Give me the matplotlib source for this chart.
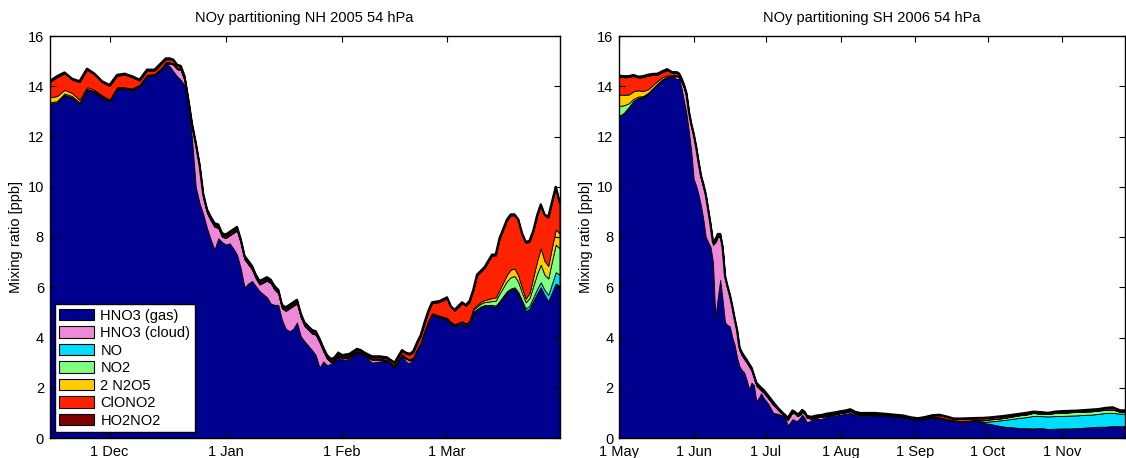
import datetime as dt
import matplotlib
matplotlib.use("Agg")
import matplotlib.pyplot as plt
import matplotlib.dates as mdates
from matplotlib.patches import Patch
from matplotlib.ticker import FuncFormatter
import numpy as np

plt.rcParams['font.family'] = ['Liberation Sans', 'DejaVu Sans']

species = ['HNO3 (gas)', 'HNO3 (cloud)', 'NO', 'NO2', '2 N2O5', 'ClONO2', 'HO2NO2']
colors = ['#00008F', '#EE88D8', '#00DDFF', '#80FF80', '#FFCC00', '#FF2200', '#800000']

# ---------------- NH 2005 (days since 15 Nov 2004) ----------------
nh_title = 'NOy partitioning NH 2005 54 hPa'
nh_start = dt.datetime(2004, 11, 15)
nh_end = dt.datetime(2005, 3, 31)
nh_days = [0, 2, 4, 6, 8, 10, 12, 14, 16, 18, 20, 22, 24, 26, 28, 30,
           31, 32, 33, 34, 35, 36, 37, 38, 39, 40, 41, 42, 43, 44, 45, 46, 47, 48, 49, 50, 51, 52, 53, 54, 55, 56,
           58, 59, 60, 61, 62, 63, 64, 65, 66, 67, 68,
           70, 71, 72, 73, 74, 75, 76, 77, 78,
           80, 82, 83, 84, 86, 88, 90, 92, 94,
           95, 96, 97, 98, 99, 100, 101, 102,
           104, 106, 107, 108, 110, 111, 112, 113, 114, 115, 116,
           118, 119, 120, 122, 123, 124, 125, 126, 127, 128, 129, 130, 131, 132, 133, 134, 135, 136]
nh_gas = [13.3, 13.35, 13.65, 13.55, 13.3, 13.85, 13.75, 13.55, 13.4, 13.9, 13.9, 13.85, 14.0, 14.4, 14.43, 14.7,
          14.9, 14.8, 14.6, 14.4, 14.25, 14.05, 13.3, 11.9, 10.0, 9.35, 8.9, 8.35, 7.9, 7.5, 7.95, 7.8, 7.7, 7.75, 7.55, 7.3, 6.75, 6.0, 6.15, 6.25, 6.05, 5.85,
          5.6, 5.35, 5.3, 5.3, 4.7, 4.35, 4.25, 4.35, 4.6, 4.05, 3.85,
          3.5, 3.3, 2.8, 3.05, 2.9, 2.95, 3.05, 3.2, 3.1,
          3.15, 3.4, 3.36, 3.26, 3.0, 3.05, 3.05, 2.83, 3.29,
          3.05, 2.97, 3.16, 3.49, 3.76, 4.23, 4.61, 4.92,
          4.8, 4.7, 4.55, 4.45, 4.55, 4.45, 4.55, 5.0, 5.1, 5.2, 5.25,
          5.25, 5.22, 5.4, 5.8, 5.9, 5.95, 5.75, 5.4, 5.05, 5.15, 5.45, 5.75, 6.0, 5.7, 5.45, 5.8, 6.15, 6.05]
nh_cloud = [0, 0, 0, 0, 0, 0, 0, 0, 0, 0, 0, 0, 0, 0, 0, 0,
            0, 0.1, 0.26, 0.28, 0.39, 0.2, 0.05, 0.46, 1.6, 1.4, 0.66, 0.61, 0.76, 0.91, 0.41, 0.21, 0.26, 0.31, 0.61, 0.96, 1.01, 1.11, 0.76, 0.46, 0.31, 0.26,
            0.66, 0.81, 0.61, 0.46, 0.46, 0.71, 0.91, 0.91, 0.76, 0.76, 0.61,
            0.66, 0.81, 1.01, 0.41, 0.26, 0.06, 0.01, 0.06, 0.06,
            0.06, 0.01, 0, 0, 0.11, 0.06, 0.01, 0, 0,
            0.11, 0.11, 0, 0, 0, 0, 0, 0,
            0, 0, 0, 0, 0, 0, 0, 0, 0, 0, 0,
            0, 0, 0, 0, 0, 0, 0, 0, 0, 0, 0, 0, 0, 0, 0, 0, 0, 0]
nh_no = [0.01, 0.01, 0.01, 0.01, 0.01, 0.01, 0.01, 0.01, 0.01, 0.01, 0.01, 0.01, 0.01, 0.01, 0.01, 0.01,
         0.01, 0.01, 0.01, 0.01, 0.01, 0.01, 0.01, 0.01, 0.01, 0.01, 0.01, 0.01, 0.01, 0.01, 0.01, 0.01, 0.01, 0.01, 0.01, 0.01, 0.01, 0.01, 0.01, 0.01, 0.01, 0.01,
         0.01, 0.01, 0.01, 0.01, 0.01, 0.01, 0.01, 0.01, 0.01, 0.01, 0.01,
         0.01, 0.01, 0.01, 0.01, 0.01, 0.01, 0.01, 0.01, 0.01,
         0.01, 0.01, 0.01, 0.01, 0.01, 0.01, 0.01, 0.01, 0.01,
         0.01, 0.01, 0.01, 0.01, 0.01, 0.01, 0.01, 0.01,
         0.01, 0.01, 0.01, 0.01, 0.01, 0.015, 0.02, 0.025, 0.03, 0.035, 0.04,
         0.05, 0.05, 0.05, 0.05, 0.05, 0.05, 0.06, 0.08, 0.1, 0.12, 0.15, 0.18, 0.2, 0.2, 0.25, 0.35, 0.45, 0.45]
nh_no2 = [0.05, 0.05, 0.05, 0.05, 0.05, 0.04, 0.04, 0.04, 0.03, 0.03, 0.03, 0.03, 0.03, 0.03, 0.03, 0.03,
          0.03, 0.03, 0.03, 0.03, 0.03, 0.03, 0.02, 0.02, 0.02, 0.02, 0.02, 0.02, 0.02, 0.02, 0.02, 0.02, 0.02, 0.02, 0.02, 0.02, 0.02, 0.02, 0.02, 0.02, 0.02, 0.02,
          0.02, 0.02, 0.02, 0.02, 0.02, 0.02, 0.02, 0.02, 0.02, 0.02, 0.02,
          0.02, 0.02, 0.02, 0.02, 0.02, 0.02, 0.02, 0.02, 0.02,
          0.02, 0.02, 0.02, 0.02, 0.02, 0.02, 0.02, 0.02, 0.02,
          0.02, 0.02, 0.02, 0.02, 0.02, 0.02, 0.02, 0.02,
          0.03, 0.04, 0.04, 0.04, 0.05, 0.05, 0.06, 0.08, 0.1, 0.11, 0.12,
          0.15, 0.2, 0.3, 0.4, 0.45, 0.45, 0.4, 0.3, 0.25, 0.3, 0.45, 0.6, 0.7, 0.6, 0.65, 0.9, 1.1, 1.05]
nh_n2o5 = [0.2, 0.2, 0.15, 0.12, 0.1, 0.07, 0.05, 0.04, 0.03, 0.02, 0.02, 0.02, 0.02, 0.02, 0.02, 0.02,
           0.02, 0.02, 0.02, 0.02, 0.02, 0.02, 0.02, 0.02, 0.02, 0.02, 0.02, 0.02, 0.02, 0.02, 0.02, 0.02, 0.02, 0.02, 0.02, 0.02, 0.02, 0.02, 0.02, 0.02, 0.02, 0.02,
           0.02, 0.02, 0.02, 0.02, 0.02, 0.02, 0.02, 0.02, 0.02, 0.02, 0.02,
           0.02, 0.02, 0.02, 0.02, 0.02, 0.02, 0.02, 0.02, 0.02,
           0.02, 0.02, 0.02, 0.02, 0.02, 0.02, 0.02, 0.02, 0.02,
           0.02, 0.02, 0.02, 0.02, 0.02, 0.02, 0.02, 0.02,
           0.03, 0.03, 0.03, 0.03, 0.04, 0.04, 0.045, 0.05, 0.06, 0.07, 0.08,
           0.12, 0.13, 0.15, 0.25, 0.3, 0.3, 0.25, 0.2, 0.15, 0.2, 0.35, 0.5, 0.65, 0.55, 0.5, 0.55, 0.6, 0.6]
nh_clono2 = [0.6, 0.75, 0.65, 0.53, 0.7, 0.69, 0.61, 0.52, 0.54, 0.45, 0.5, 0.45, 0.16, 0.16, 0.13, 0.16,
             0.11, 0.11, 0.1, 0.08, 0.07, 0.06, 0.05, 0.05, 0.05, 0.05, 0.05, 0.05, 0.05, 0.05, 0.05, 0.05, 0.05, 0.05, 0.05, 0.05, 0.05, 0.05, 0.05, 0.05, 0.05, 0.05,
             0.05, 0.05, 0.05, 0.05, 0.05, 0.05, 0.05, 0.05, 0.05, 0.05, 0.05,
             0.05, 0.05, 0.05, 0.05, 0.05, 0.05, 0.05, 0.05, 0.05,
             0.05, 0.05, 0.05, 0.05, 0.05, 0.05, 0.06, 0.08, 0.12,
             0.15, 0.18, 0.2, 0.22, 0.25, 0.28, 0.35, 0.39,
             0.54, 0.78, 0.58, 0.53, 0.71, 0.7, 0.735, 0.705, 1.17, 1.195, 1.27,
             1.69, 1.66, 2.01, 2.16, 2.16, 2.11, 2.2, 2.13, 2.21, 2.04, 1.81, 1.78, 1.71, 1.81, 1.91, 1.76, 1.66, 1.21]
nh_ho2no2 = [0.04, 0.04, 0.04, 0.04, 0.04, 0.04, 0.04, 0.04, 0.04, 0.04, 0.04, 0.04, 0.04, 0.04, 0.04, 0.04,
             0.04, 0.04, 0.04, 0.04, 0.04, 0.04, 0.04, 0.04, 0.04, 0.04, 0.04, 0.04, 0.04, 0.04, 0.04, 0.04, 0.04, 0.04, 0.04, 0.04, 0.04, 0.04, 0.04, 0.04, 0.04, 0.04,
             0.04, 0.04, 0.04, 0.04, 0.04, 0.04, 0.04, 0.04, 0.04, 0.04, 0.04,
             0.04, 0.04, 0.04, 0.04, 0.04, 0.04, 0.04, 0.04, 0.04,
             0.04, 0.04, 0.04, 0.04, 0.04, 0.04, 0.04, 0.04, 0.04,
             0.04, 0.04, 0.04, 0.04, 0.04, 0.04, 0.04, 0.04,
             0.04, 0.04, 0.04, 0.04, 0.04, 0.04, 0.04, 0.04, 0.04, 0.04, 0.04,
             0.04, 0.04, 0.04, 0.04, 0.04, 0.04, 0.04, 0.04, 0.04, 0.04, 0.04, 0.04, 0.04, 0.04, 0.04, 0.04, 0.04, 0.04]

# ---------------- SH 2006 (days since 1 May 2006) ----------------
sh_title = 'NOy partitioning SH 2006 54 hPa'
sh_start = dt.datetime(2006, 5, 1)
sh_end = dt.datetime(2006, 11, 27)
sh_days = [0, 2, 4, 6, 8, 10, 12, 14, 16, 18, 20, 22,
           24, 25, 26, 27, 28, 29, 30, 31, 32, 33, 34, 35, 36, 37, 38, 39, 40, 41, 42, 43, 44, 45, 46, 47, 48, 49,
           50, 51, 52, 53, 54, 55, 56, 57, 58, 59, 60,
           62, 64, 66, 68,
           69, 70, 71, 72, 73, 74, 75, 76, 77, 78,
           80, 82, 84, 86, 88, 90, 92, 94, 96, 98, 100,
           103, 106, 109, 112, 115, 118, 121, 124, 127, 130, 133, 136, 139, 142, 145, 148,
           151, 154, 157, 160, 163, 166, 169, 172, 175, 178, 181, 184, 187, 190, 193, 196, 199, 202, 205, 208,
           210]
sh_gas = [12.8, 12.92, 13.15, 13.4, 13.52, 13.56, 13.7, 13.9, 14.08, 14.25, 14.35, 14.38,
          14.29, 14.29, 13.9, 13.4, 12.9, 12.2, 11.4, 10.3, 10.05, 9.7, 9.25, 8.7, 8.0, 7.8, 7.6, 7.0, 4.8, 5.6, 6.3, 5.5, 4.6, 4.5, 4.44, 4.0, 3.7, 3.2,
          2.85, 2.7, 2.6, 2.3, 1.95, 2.2, 2.1, 1.45, 1.6, 1.78, 1.6,
          1.35, 1.0, 0.96, 0.88,
          0.8, 0.5, 0.62, 0.75, 0.7, 0.68, 0.78, 0.93, 0.8, 0.62,
          0.72, 0.78, 0.75, 0.86, 0.88, 0.9, 0.93, 0.96, 1.0, 0.92, 0.89,
          0.88, 0.9, 0.9, 0.88, 0.85, 0.82, 0.76, 0.72, 0.77, 0.8, 0.76, 0.73, 0.68, 0.65, 0.66, 0.7,
          0.6, 0.56, 0.5, 0.45, 0.43, 0.4, 0.39, 0.38, 0.4, 0.36, 0.37, 0.38, 0.38, 0.39, 0.41, 0.43, 0.45, 0.45, 0.48, 0.47,
          0.47]
sh_cloud = [0, 0, 0, 0, 0, 0, 0, 0, 0, 0, 0, 0,
            0.11, 0.06, 0.26, 0.52, 0.69, 0.68, 0.98, 1.69, 1.44, 1.19, 1.09, 1.29, 1.59, 1.19, 0.79, 0.69, 2.99, 2.41, 1.71, 1.99, 1.74, 1.44, 1.15, 1.14, 0.94, 0.99,
            0.64, 0.59, 0.54, 0.7, 0.89, 0.49, 0.29, 0.64, 0.39, 0.11, 0.21,
            0.22, 0.32, 0.16, 0.04,
            0.04, 0.22, 0.25, 0.27, 0.27, 0.19, 0.14, 0.11, 0.17, 0.18,
            0.05, 0.04, 0.09, 0.03, 0.04, 0.05, 0.06, 0.06, 0.07, 0.05, 0.03,
            0.04, 0.02, 0, 0, 0, 0, 0, 0, 0, 0.02, 0.04, 0, 0, 0, 0, 0,
            0, 0, 0, 0, 0, 0, 0, 0, 0, 0, 0, 0, 0, 0, 0, 0, 0, 0, 0, 0,
            0]
sh_no = [0.02, 0.02, 0.02, 0.02, 0.02, 0.02, 0.01, 0.01, 0.01, 0.01, 0.01, 0.01,
         0.01, 0.01, 0.01, 0.01, 0.01, 0.01, 0.01, 0.01, 0.01, 0.01, 0.01, 0.01, 0.01, 0.01, 0.01, 0.01, 0.01, 0.01, 0.01, 0.01, 0.01, 0.01, 0.01, 0.01, 0.01, 0.01,
         0.01, 0.01, 0.01, 0.01, 0.01, 0.01, 0.01, 0.01, 0.01, 0.01, 0.01,
         0.01, 0.01, 0.005, 0.005,
         0.005, 0.005, 0.005, 0.005, 0.005, 0.005, 0.005, 0.005, 0.005, 0.005,
         0.005, 0.005, 0.005, 0.005, 0.005, 0.005, 0.005, 0.005, 0.005, 0.005, 0.005,
         0.005, 0.005, 0.005, 0.005, 0.005, 0.005, 0.005, 0.005, 0.005, 0.005, 0.005, 0.005, 0.005, 0.005, 0.005, 0.005,
         0.04, 0.1, 0.19, 0.27, 0.33, 0.4, 0.44, 0.5, 0.47, 0.5, 0.5, 0.5, 0.51, 0.51, 0.51, 0.5, 0.51, 0.55, 0.52, 0.5,
         0.5]
sh_no2 = [0.4, 0.3, 0.15, 0.08, 0.05, 0.03, 0.02, 0.02, 0.02, 0.02, 0.02, 0.02,
          0.02, 0.02, 0.02, 0.02, 0.02, 0.02, 0.02, 0.02, 0.02, 0.02, 0.02, 0.02, 0.02, 0.02, 0.02, 0.02, 0.02, 0.02, 0.02, 0.02, 0.02, 0.02, 0.02, 0.02, 0.02, 0.02,
          0.02, 0.02, 0.02, 0.02, 0.02, 0.02, 0.02, 0.02, 0.02, 0.02, 0.02,
          0.02, 0.02, 0.01, 0.01,
          0.01, 0.01, 0.01, 0.01, 0.01, 0.01, 0.01, 0.01, 0.01, 0.01,
          0.01, 0.01, 0.01, 0.01, 0.01, 0.01, 0.01, 0.01, 0.01, 0.01, 0.01,
          0.01, 0.01, 0.01, 0.01, 0.01, 0.01, 0.01, 0.01, 0.01, 0.01, 0.01, 0.01, 0.01, 0.01, 0.01, 0.01,
          0.06, 0.08, 0.07, 0.08, 0.09, 0.1, 0.1, 0.12, 0.08, 0.1, 0.12, 0.12, 0.13, 0.14, 0.13, 0.13, 0.13, 0.12, 0.13, 0.07,
          0.08]
sh_n2o5 = [0.45, 0.42, 0.35, 0.3, 0.25, 0.2, 0.15, 0.12, 0.1, 0.08, 0.05, 0.03,
           0.01, 0.01, 0.01, 0.01, 0.01, 0.01, 0.01, 0.01, 0.01, 0.01, 0.01, 0.01, 0.01, 0.01, 0.01, 0.01, 0.01, 0.01, 0.01, 0.01, 0.01, 0.01, 0.01, 0.01, 0.01, 0.01,
           0.01, 0.01, 0.01, 0.01, 0.01, 0.01, 0.01, 0.01, 0.01, 0.01, 0.01,
           0.01, 0.01, 0.01, 0.01,
           0.01, 0.01, 0.01, 0.01, 0.01, 0.01, 0.01, 0.01, 0.01, 0.01,
           0.01, 0.01, 0.01, 0.01, 0.01, 0.01, 0.01, 0.01, 0.01, 0.01, 0.01,
           0.01, 0.01, 0.01, 0.01, 0.01, 0.01, 0.01, 0.01, 0.01, 0.01, 0.01, 0.01, 0.01, 0.01, 0.01, 0.01,
           0.01, 0.01, 0.01, 0.01, 0.01, 0.01, 0.01, 0.01, 0.01, 0.01, 0.01, 0.01, 0.01, 0.01, 0.01, 0.01, 0.01, 0.01, 0.01, 0.01,
           0.01]
sh_clono2 = [0.71, 0.7, 0.69, 0.61, 0.5, 0.55, 0.54, 0.4, 0.25, 0.2, 0.21, 0.08,
             0.08, 0.07, 0.06, 0.05, 0.05, 0.04, 0.04, 0.03, 0.03, 0.03, 0.03, 0.03, 0.03, 0.03, 0.03, 0.03, 0.03, 0.03, 0.03, 0.03, 0.03, 0.03, 0.03, 0.03, 0.03, 0.03,
             0.03, 0.03, 0.03, 0.03, 0.03, 0.03, 0.03, 0.03, 0.03, 0.03, 0.03,
             0.03, 0.03, 0.03, 0.03,
             0.03, 0.03, 0.03, 0.03, 0.03, 0.03, 0.03, 0.03, 0.03, 0.03,
             0.03, 0.03, 0.03, 0.03, 0.03, 0.03, 0.03, 0.03, 0.03, 0.03, 0.03,
             0.03, 0.03, 0.03, 0.025, 0.025, 0.03, 0.02, 0.02, 0.02, 0.04, 0.08, 0.08, 0.05, 0.08, 0.08, 0.05,
             0.07, 0.05, 0.06, 0.05, 0.04, 0.03, 0.04, 0.02, 0.05, 0.01, 0.03, 0.04, 0.03, 0.02, 0.03, 0.04, 0.03, 0.05, 0.06, 0.03,
             0.02]
sh_ho2no2 = [0.04, 0.04, 0.04, 0.04, 0.04, 0.04, 0.04, 0.04, 0.04, 0.04, 0.04, 0.04,
             0.04, 0.04, 0.04, 0.04, 0.04, 0.04, 0.04, 0.04, 0.04, 0.04, 0.04, 0.04, 0.04, 0.04, 0.04, 0.04, 0.04, 0.04, 0.04, 0.04, 0.04, 0.04, 0.04, 0.04, 0.04, 0.04,
             0.04, 0.04, 0.04, 0.04, 0.04, 0.04, 0.04, 0.04, 0.04, 0.04, 0.04,
             0.04, 0.04, 0.02, 0.02,
             0.02, 0.02, 0.02, 0.02, 0.02, 0.02, 0.02, 0.02, 0.02, 0.02,
             0.02, 0.02, 0.02, 0.02, 0.02, 0.02, 0.02, 0.02, 0.02, 0.02, 0.02,
             0.02, 0.02, 0.02, 0.02, 0.02, 0.02, 0.02, 0.02, 0.02, 0.02, 0.02, 0.02, 0.02, 0.02, 0.02, 0.02,
             0.02, 0.02, 0.02, 0.02, 0.02, 0.02, 0.02, 0.02, 0.02, 0.02, 0.02, 0.02, 0.02, 0.02, 0.02, 0.02, 0.02, 0.02, 0.02, 0.02,
             0.02]

y_ticks = [0, 2, 4, 6, 8, 10, 12, 14, 16]
y_label = 'Mixing ratio [ppb]'
FS = 10.5


def month_label(x, pos=None):
    d = mdates.num2date(x)
    return f"{d.day} {d.strftime('%b')}"


def draw(ax, start, end, days, series, title, legend=False):
    for s in series:
        if len(s) != len(days):
            raise ValueError(f"length mismatch {len(s)} vs {len(days)} in {title}")
    x = [start + dt.timedelta(days=d) for d in days]
    ys = np.array(series, dtype=float)
    ax.stackplot(x, ys, colors=colors, edgecolor='black', linewidth=0.6)
    ax.plot(x, ys.sum(axis=0), color='black', linewidth=1.6)
    ax.set_xlim(start, end)
    ax.set_ylim(0, 16)
    ax.set_yticks(y_ticks)
    ax.xaxis.set_major_locator(mdates.MonthLocator(bymonthday=1))
    ax.xaxis.set_major_formatter(FuncFormatter(month_label))
    ax.tick_params(direction='in', top=True, right=True, length=4, width=0.8,
                   labelsize=FS)
    ax.tick_params(axis='x', pad=5)
    ax.tick_params(axis='y', pad=4)
    for sp in ax.spines.values():
        sp.set_linewidth(1.0)
    ax.set_title(title, fontsize=FS, pad=10)
    ax.set_ylabel(y_label, fontsize=FS, labelpad=3)
    if legend:
        handles = [Patch(facecolor=c, edgecolor='black', linewidth=0.8) for c in colors]
        leg = ax.legend(handles, species, loc='lower left',
                        bbox_to_anchor=(0.011, 0.015), borderaxespad=0,
                        fontsize=FS, fancybox=False, framealpha=1,
                        edgecolor='black', handlelength=2.4, handleheight=0.85,
                        handletextpad=0.4, labelspacing=0.24, borderpad=0.3)
        leg.get_frame().set_linewidth(1.0)


fig = plt.figure(figsize=(11.26, 4.58), dpi=100)
ax1 = fig.add_axes([49.5 / 1126, 20 / 458, 510 / 1126, 402 / 458])
ax2 = fig.add_axes([619 / 1126, 20 / 458, 506 / 1126, 402 / 458])

draw(ax1, nh_start, nh_end, nh_days,
     [nh_gas, nh_cloud, nh_no, nh_no2, nh_n2o5, nh_clono2, nh_ho2no2], nh_title, legend=True)
draw(ax2, sh_start, sh_end, sh_days,
     [sh_gas, sh_cloud, sh_no, sh_no2, sh_n2o5, sh_clono2, sh_ho2no2], sh_title)

fig.savefig('out.png', dpi=100)
